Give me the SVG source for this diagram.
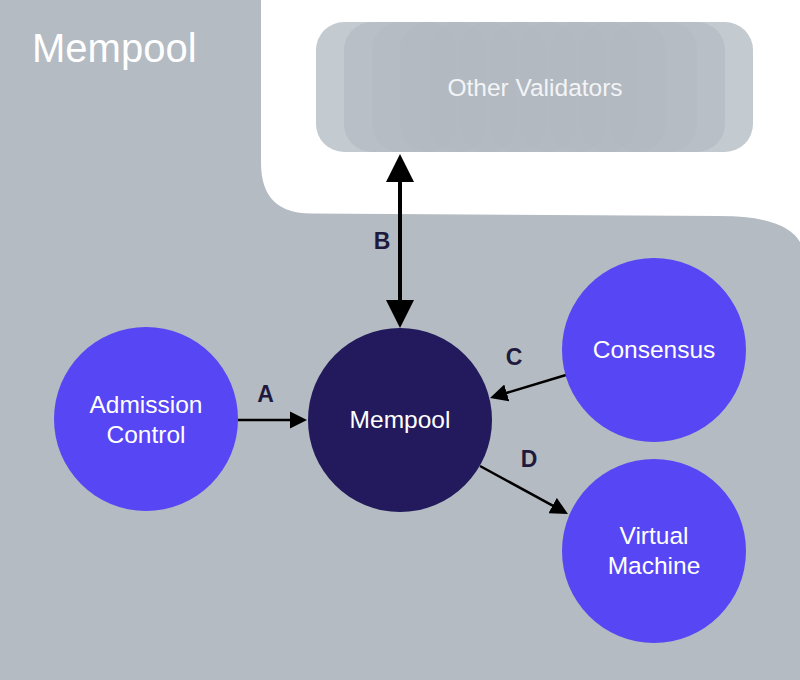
<svg xmlns="http://www.w3.org/2000/svg" width="800" height="680" viewBox="0 0 800 680">
<style>
.lbl{font-family:"Liberation Sans",Arial,sans-serif;fill:#ffffff;text-anchor:middle}
.node{font-size:24.5px}
.edge{font-family:"Liberation Sans",Arial,sans-serif;font-weight:bold;font-size:23px;fill:#1f1a3d;text-anchor:middle}
.ln{stroke:#000;fill:none;stroke-linecap:butt}
.card{fill:#b2b9c1;fill-opacity:0.45}
</style>
<defs>
<marker id="ah" viewBox="0 0 7 7" refX="4" refY="3.5" markerWidth="7" markerHeight="7" markerUnits="strokeWidth" orient="auto-start-reverse">
<path d="M0,0 L7,3.5 L0,7 z" fill="#000"/>
</marker>
</defs>
<rect x="0" y="0" width="800" height="680" fill="#b4bbc2"/>
<path d="M261,0 H800 V242 Q785,216 720,216 L311,213.5 Q261,213.5 261,163 Z" fill="#ffffff"/>
<text x="32" y="62" class="lbl" style="text-anchor:start;font-size:40px">Mempool</text>
<g id="other-validators">
<rect x="316" y="22" width="437" height="130" rx="28" fill="#c3cad0"/>
<rect x="344" y="22" width="381" height="130" rx="28" fill="#b8bfc6"/>
<rect x="372" y="22" width="325" height="130" rx="28" fill="#b5bcc3"/>
<rect x="400" y="22" width="56" height="130" rx="28" class="card"/>
<rect x="430" y="22" width="56" height="130" rx="28" class="card"/>
<rect x="460" y="22" width="56" height="130" rx="28" class="card"/>
<rect x="490" y="22" width="56" height="130" rx="28" class="card"/>
<rect x="520" y="22" width="56" height="130" rx="28" class="card"/>
<rect x="550" y="22" width="56" height="130" rx="28" class="card"/>
<rect x="580" y="22" width="56" height="130" rx="28" class="card"/>
<rect x="610" y="22" width="56" height="130" rx="28" class="card"/>
<text x="535" y="96" class="lbl" style="font-size:24.5px;fill:#f2f4f6">Other Validators</text>
</g>
<g id="connectors">
<line x1="238" y1="420" x2="299.5" y2="420" class="ln" stroke-width="2.5" marker-end="url(#ah)"/>
<line x1="400" y1="166" x2="400" y2="316" class="ln" stroke-width="4" marker-start="url(#ah)" marker-end="url(#ah)"/>
<line x1="566" y1="375" x2="497.2" y2="395.8" class="ln" stroke-width="2.5" marker-end="url(#ah)"/>
<line x1="480" y1="466" x2="561.4" y2="510.4" class="ln" stroke-width="2.5" marker-end="url(#ah)"/>
<text x="265.5" y="402" class="edge">A</text>
<text x="382" y="249" class="edge">B</text>
<text x="514" y="365" class="edge">C</text>
<text x="529" y="467" class="edge">D</text>
</g>
<g id="admission-control">
<circle cx="146" cy="419" r="92" fill="#5746f4"/>
<text x="146" y="413" class="lbl node">Admission</text>
<text x="146" y="443" class="lbl node">Control</text>
</g>
<g id="mempool">
<circle cx="400" cy="420" r="92" fill="#221a5c"/>
<text x="400" y="428" class="lbl node">Mempool</text>
</g>
<g id="consensus">
<circle cx="654" cy="350" r="92" fill="#5746f4"/>
<text x="654" y="358" class="lbl node">Consensus</text>
</g>
<g id="virtual-machine">
<circle cx="654" cy="551" r="92" fill="#5746f4"/>
<text x="654" y="544" class="lbl node">Virtual</text>
<text x="654" y="574" class="lbl node">Machine</text>
</g>
</svg>
